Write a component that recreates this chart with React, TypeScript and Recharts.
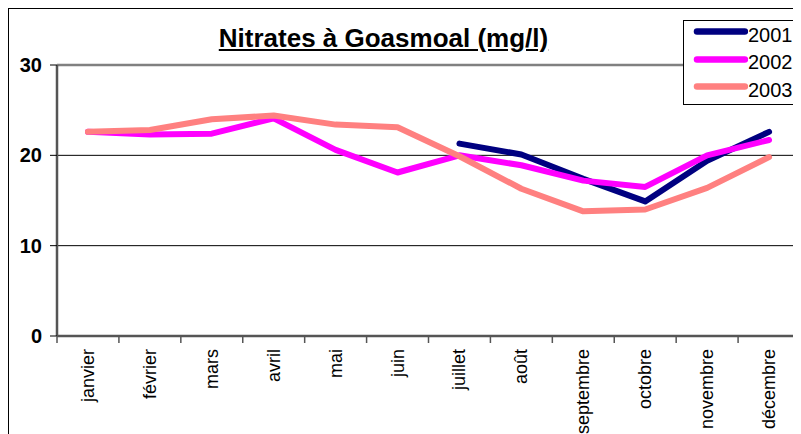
import { LineChart, Line, XAxis, YAxis, CartesianGrid, ReferenceLine } from "recharts";

const months = [
  "janvier",
  "février",
  "mars",
  "avril",
  "mai",
  "juin",
  "juillet",
  "août",
  "septembre",
  "octobre",
  "novembre",
  "décembre",
];
const values2001 = [null, null, null, null, null, null, 21.3, 20.1, 17.4, 14.9, 19.4, 22.6];
const values2002 = [22.6, 22.3, 22.4, 24.1, 20.6, 18.1, 20.0, 18.9, 17.2, 16.5, 20.0, 21.7];
const values2003 = [22.6, 22.8, 24.0, 24.4, 23.4, 23.1, 19.9, 16.3, 13.8, 14.0, 16.4, 19.8];
const yTicks = [0, 10, 20, 30];

const series = [
  { key: "2001", color: "#000080" },
  { key: "2002", color: "#ff00ff" },
  { key: "2003", color: "#ff8080" },
];

const data = months.map((m, i) => ({
  month: m,
  "2001": values2001[i],
  "2002": values2002[i],
  "2003": values2003[i],
}));

const FONT = "'Liberation Sans', Arial, sans-serif";
const TICK_SIZE = 7;
const TICK_MARGIN = 6;

const MonthTick = (props: any) => {
  const { x, y, payload } = props;
  const half = payload.offset ?? 31;
  const axisY = y - TICK_SIZE - TICK_MARGIN;
  return (
    <g>
      <line x1={x - half} x2={x - half} y1={axisY} y2={axisY + TICK_SIZE} stroke="#555" strokeWidth={1.5} />
      <text
        x={x}
        y={y}
        transform={`rotate(-90, ${x}, ${y})`}
        textAnchor="end"
        dominantBaseline="central"
        fontSize={18}
        fontFamily={FONT}
        fill="#000"
      >
        {payload.value}
      </text>
    </g>
  );
};

const LegendBox = () => (
  <div
    style={{
      position: "absolute",
      left: 674,
      top: 11,
      width: 117,
      height: 85,
      border: "1px solid #000",
      background: "#fff",
      boxSizing: "border-box",
      fontFamily: FONT,
      fontSize: 20,
      zIndex: 3,
    }}
  >
    {series.map((s) => (
      <div key={s.key} style={{ height: 27.5, display: "flex", alignItems: "center" }}>
        <svg width={64} height={27} style={{ display: "block" }}>
          <line x1={13} x2={61} y1={10.5} y2={10.5} stroke={s.color} strokeWidth={6.5} strokeLinecap="round" />
        </svg>
        <span style={{ lineHeight: "20px" }}>{s.key}</span>
      </div>
    ))}
  </div>
);

export default function App() {
  return (
    <div
      style={{
        position: "relative",
        width: 791,
        height: 440,
        border: "1px solid #000",
        background: "#fff",
      }}
    >
      <div
        style={{
          position: "absolute",
          left: 0,
          top: 16,
          width: 749,
          textAlign: "center",
          fontFamily: FONT,
          fontWeight: "bold",
          fontSize: 26,
          lineHeight: "26px",
          textDecoration: "underline",
          zIndex: 2,
        }}
      >
        Nitrates à Goasmoal (mg/l)
      </div>
      <LegendBox />
      <LineChart width={791} height={431} data={data} margin={{ top: 56, right: 0, bottom: 0, left: 0 }}>
        <CartesianGrid vertical={false} stroke="#000" strokeWidth={1} />
        <ReferenceLine y={30} stroke="#808080" strokeWidth={2.5} />
        <XAxis
          dataKey="month"
          scale="band"
          interval={0}
          height={104}
          tickSize={TICK_SIZE}
          tickMargin={TICK_MARGIN}
          tickLine={false}
          axisLine={{ stroke: "#555", strokeWidth: 2.5 }}
          tick={<MonthTick />}
        />
        <YAxis
          domain={[0, 30]}
          ticks={yTicks}
          width={48}
          tickSize={TICK_SIZE}
          tickMargin={8}
          axisLine={{ stroke: "#555", strokeWidth: 2.5 }}
          tickLine={{ stroke: "#000" }}
          tick={{ fill: "#000", fontSize: 20, fontWeight: "bold", fontFamily: FONT }}
        />
        {series.map((s) => (
          <Line
            key={s.key}
            dataKey={s.key}
            stroke={s.color}
            strokeWidth={6}
            strokeLinecap="round"
            strokeLinejoin="round"
            dot={false}
            activeDot={false}
            type="linear"
            isAnimationActive={false}
          />
        ))}
      </LineChart>
    </div>
  );
}
